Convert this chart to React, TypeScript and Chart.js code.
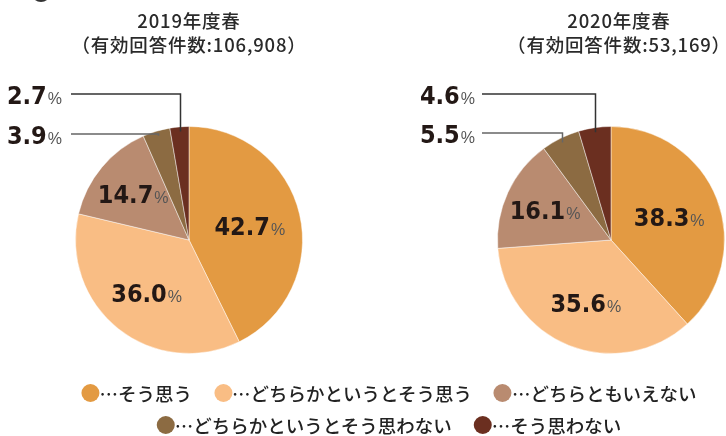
import React, { useEffect, useRef } from "react";
import { Chart, registerables } from "chart.js";

Chart.register(...registerables);

const categories = [
  "そう思う",
  "どちらかというとそう思う",
  "どちらともいえない",
  "どちらかというとそう思わない",
  "そう思わない",
];
const colors = ["#E39A42", "#F9BD84", "#B98B70", "#8C6B42", "#6B2F20"];
const values2019 = [42.7, 36.0, 14.7, 3.9, 2.7];
const values2020 = [38.3, 35.6, 16.1, 5.5, 4.6];
const title2019 = ["2019年度春", "（有効回答件数:106,908）"];
const title2020 = ["2020年度春", "（有効回答件数:53,169）"];

const NUM_FONT = 'bold 25px "DejaVu Sans Condensed", "DejaVu Sans", sans-serif';
const PCT_FONT = '16px "Liberation Sans", "Noto Sans", sans-serif';

function drawLabel(ctx: CanvasRenderingContext2D, txt: string, px: number, py: number, align: "center" | "right") {
  ctx.save();
  ctx.font = NUM_FONT;
  const w1 = ctx.measureText(txt).width;
  ctx.font = PCT_FONT;
  const w2 = ctx.measureText("%").width;
  const gap = 1;
  const total = w1 + gap + w2;
  const sx = align === "center" ? px - total / 2 : px - total;
  const base = py + 9;
  ctx.textAlign = "left";
  ctx.textBaseline = "alphabetic";
  ctx.fillStyle = "#231815";
  ctx.font = NUM_FONT;
  ctx.fillText(txt, sx, base);
  ctx.fillStyle = "#555";
  ctx.font = PCT_FONT;
  ctx.fillText("%", sx + w1 + gap, base);
  ctx.restore();
}

const labelPlugin = {
  id: "sliceLabels",
  afterDatasetsDraw(chart: any, _args: any, opts: any) {
    const ctx: CanvasRenderingContext2D = chart.ctx;
    const meta = chart.getDatasetMeta(0);
    const vals: number[] = chart.data.datasets[0].data;
    meta.data.forEach((arc: any, i: number) => {
      const { x, y, startAngle, endAngle, outerRadius } = arc.getProps(
        ["x", "y", "startAngle", "endAngle", "outerRadius"],
        true
      );
      const mid = (startAngle + endAngle) / 2;
      const txt = vals[i].toFixed(1);
      if (i < 3) {
        const f = opts.insideRadius[i];
        const px = x + Math.cos(mid) * outerRadius * f;
        const py = y + Math.sin(mid) * outerRadius * f;
        drawLabel(ctx, txt, px, py, "center");
      } else {
        const ax = x + Math.cos(mid) * outerRadius * 0.96;
        const ay = y + Math.sin(mid) * outerRadius * 0.96;
        const ly = opts.calloutY[i - 3];
        ctx.save();
        ctx.strokeStyle = opts.lineColors[i - 3];
        ctx.lineWidth = 1.5;
        ctx.beginPath();
        ctx.moveTo(Math.round(ax) + 0.5, ay);
        ctx.lineTo(Math.round(ax) + 0.5, ly);
        ctx.lineTo(opts.lineStartX, ly);
        ctx.stroke();
        ctx.restore();
        drawLabel(ctx, txt, opts.labelRightX, ly + 1, "right");
      }
    });
  },
};

function PieChart(props: {
  values: number[];
  left: number;
  padding: { left: number; right: number; top: number; bottom: number };
  calloutY: number[];
  lineStartX: number;
  labelRightX: number;
  insideRadius: number[];
}) {
  const ref = useRef<HTMLCanvasElement | null>(null);
  useEffect(() => {
    if (!ref.current) return;
    const chart = new Chart(ref.current, {
      type: "pie",
      data: {
        labels: categories,
        datasets: [
          {
            data: props.values,
            backgroundColor: colors,
            borderColor: "rgba(255,255,255,0.45)",
            borderWidth: 1,
          },
        ],
      },
      options: {
        responsive: false,
        maintainAspectRatio: false,
        animation: false,
        layout: { padding: props.padding },
        plugins: {
          legend: { display: false },
          tooltip: { enabled: false },
          sliceLabels: {
            calloutY: props.calloutY,
            lineStartX: props.lineStartX,
            labelRightX: props.labelRightX,
            insideRadius: props.insideRadius,
            lineColors: ["#666", "#333"],
          },
        } as any,
      },
      plugins: [labelPlugin],
    });
    return () => chart.destroy();
  }, []);
  return (
    <canvas
      ref={ref}
      width={363}
      height={436}
      style={{ position: "absolute", left: props.left, top: 0, width: 363, height: 436 }}
    />
  );
}

const titleStyle: React.CSSProperties = {
  position: "absolute",
  transform: "translateX(-50%)",
  whiteSpace: "nowrap",
  fontFamily: '"Noto Sans CJK JP", sans-serif',
  fontSize: 18.5,
  fontWeight: 500,
  letterSpacing: 0.8,
  color: "#2a2a2a",
  lineHeight: "24px",
};

function LegendItem({ i }: { i: number }) {
  return (
    <span style={{ display: "inline-flex", alignItems: "center", marginRight: i === 2 || i === 4 ? 0 : 22 }}>
      <span
        style={{
          display: "inline-block",
          width: 18,
          height: 18,
          borderRadius: "50%",
          background: colors[i],
        }}
      />
      <span>{"…" + categories[i]}</span>
    </span>
  );
}

export default function App() {
  const legendRow: React.CSSProperties = {
    position: "absolute",
    left: 389,
    transform: "translateX(-50%)",
    whiteSpace: "nowrap",
    fontFamily: '"Noto Sans CJK JP", sans-serif',
    fontSize: 18.5,
    fontWeight: 500,
    color: "#222",
    lineHeight: "24px",
    display: "flex",
    alignItems: "center",
  };
  return (
    <div
      style={{
        position: "absolute",
        left: 0,
        top: 0,
        width: 726,
        height: 436,
        background: "#fff",
        overflow: "hidden",
      }}
    >
      <div
        style={{
          position: "absolute",
          left: 31,
          top: -18,
          width: 20,
          height: 20,
          borderRadius: "50%",
          background: "#333",
        }}
      />
      <PieChart
        values={values2019}
        left={0}
        padding={{ left: 75, right: 60, top: 126, bottom: 82 }}
        calloutY={[134, 94]}
        lineStartX={71}
        labelRightX={62}
        insideRadius={[0.55, 0.6, 0.64]}
      />
      <PieChart
        values={values2020}
        left={363}
        padding={{ left: 134, right: 1, top: 126, bottom: 82 }}
        calloutY={[133, 94]}
        lineStartX={119}
        labelRightX={112}
        insideRadius={[0.55, 0.6, 0.64]}
      />
      <div style={{ ...titleStyle, left: 189, top: 8 }}>{title2019[0]}</div>
      <div style={{ ...titleStyle, left: 189, top: 32 }}>{title2019[1]}</div>
      <div style={{ ...titleStyle, left: 619, top: 8 }}>{title2020[0]}</div>
      <div style={{ ...titleStyle, left: 619, top: 32 }}>{title2020[1]}</div>
      <div style={{ ...legendRow, top: 381 }}>
        <LegendItem i={0} />
        <LegendItem i={1} />
        <LegendItem i={2} />
      </div>
      <div style={{ ...legendRow, top: 413 }}>
        <LegendItem i={3} />
        <LegendItem i={4} />
      </div>
    </div>
  );
}
